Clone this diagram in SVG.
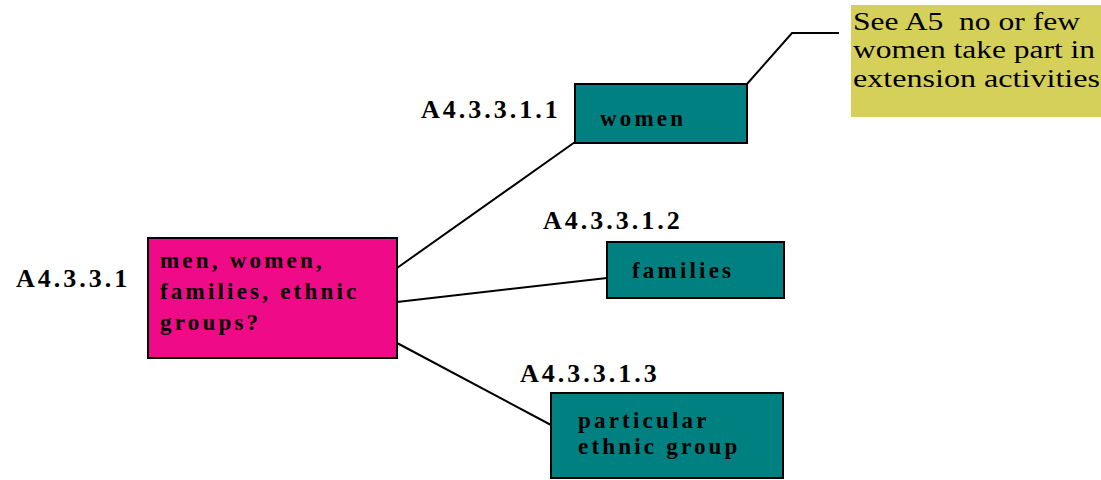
<svg xmlns="http://www.w3.org/2000/svg" width="1101" height="480" viewBox="0 0 1101 480">
  <style>
    .box { stroke: #000; stroke-width: 2; }
    .root { fill: #ef0a87; }
    .leaf { fill: #008080; }
    .note { fill: #d5d05a; }
    .code { font-family: "Liberation Serif", "Times New Roman", serif; font-weight: bold; font-size: 26px; letter-spacing: 3px; fill: #000; }
    .lbl { font-family: "Liberation Serif", "Times New Roman", serif; font-weight: bold; font-size: 23px; letter-spacing: 3.2px; fill: #000; }
    .ntxt { font-family: "Liberation Serif", "Times New Roman", serif; font-size: 26px; fill: #000; }
    .edge { fill: none; stroke: #000; stroke-width: 2; }
  </style>
  <rect width="1101" height="480" fill="#fff"/>

  <g id="connectors">
    <line class="edge" x1="397" y1="268" x2="575" y2="142"/>
    <line class="edge" x1="397" y1="302" x2="607" y2="278"/>
    <line class="edge" x1="397" y1="343" x2="551" y2="425"/>
    <polyline class="edge" points="747,84 792,33 839,33"/>
  </g>

  <g id="node-A4.3.3.1">
    <text class="code" x="16" y="287">A4.3.3.1</text>
    <rect class="box root" x="148" y="238" width="249" height="120"/>
    <text class="lbl" x="160" y="268">men, women,</text>
    <text class="lbl" x="160" y="299">families, ethnic</text>
    <text class="lbl" x="160" y="330">groups?</text>
  </g>

  <g id="node-A4.3.3.1.1">
    <text class="code" x="421" y="118">A4.3.3.1.1</text>
    <rect class="box leaf" x="575" y="84" width="172" height="59"/>
    <text class="lbl" x="600" y="126">women</text>
  </g>

  <g id="node-A4.3.3.1.2">
    <text class="code" x="543" y="229">A4.3.3.1.2</text>
    <rect class="box leaf" x="607" y="242" width="177" height="56"/>
    <text class="lbl" x="632" y="278">families</text>
  </g>

  <g id="node-A4.3.3.1.3">
    <text class="code" x="520" y="382">A4.3.3.1.3</text>
    <rect class="box leaf" x="551" y="393" width="232" height="85"/>
    <text class="lbl" x="578" y="428">particular</text>
    <text class="lbl" x="578" y="454">ethnic group</text>
  </g>

  <g id="note-A5">
    <rect class="note" x="851" y="5" width="250" height="112"/>
    <text class="ntxt" x="853" y="30" textLength="227" lengthAdjust="spacingAndGlyphs" xml:space="preserve">See A5  no or few</text>
    <text class="ntxt" x="853" y="58" textLength="242" lengthAdjust="spacingAndGlyphs">women take part in</text>
    <text class="ntxt" x="853" y="87" textLength="247" lengthAdjust="spacingAndGlyphs">extension activities</text>
  </g>
</svg>
